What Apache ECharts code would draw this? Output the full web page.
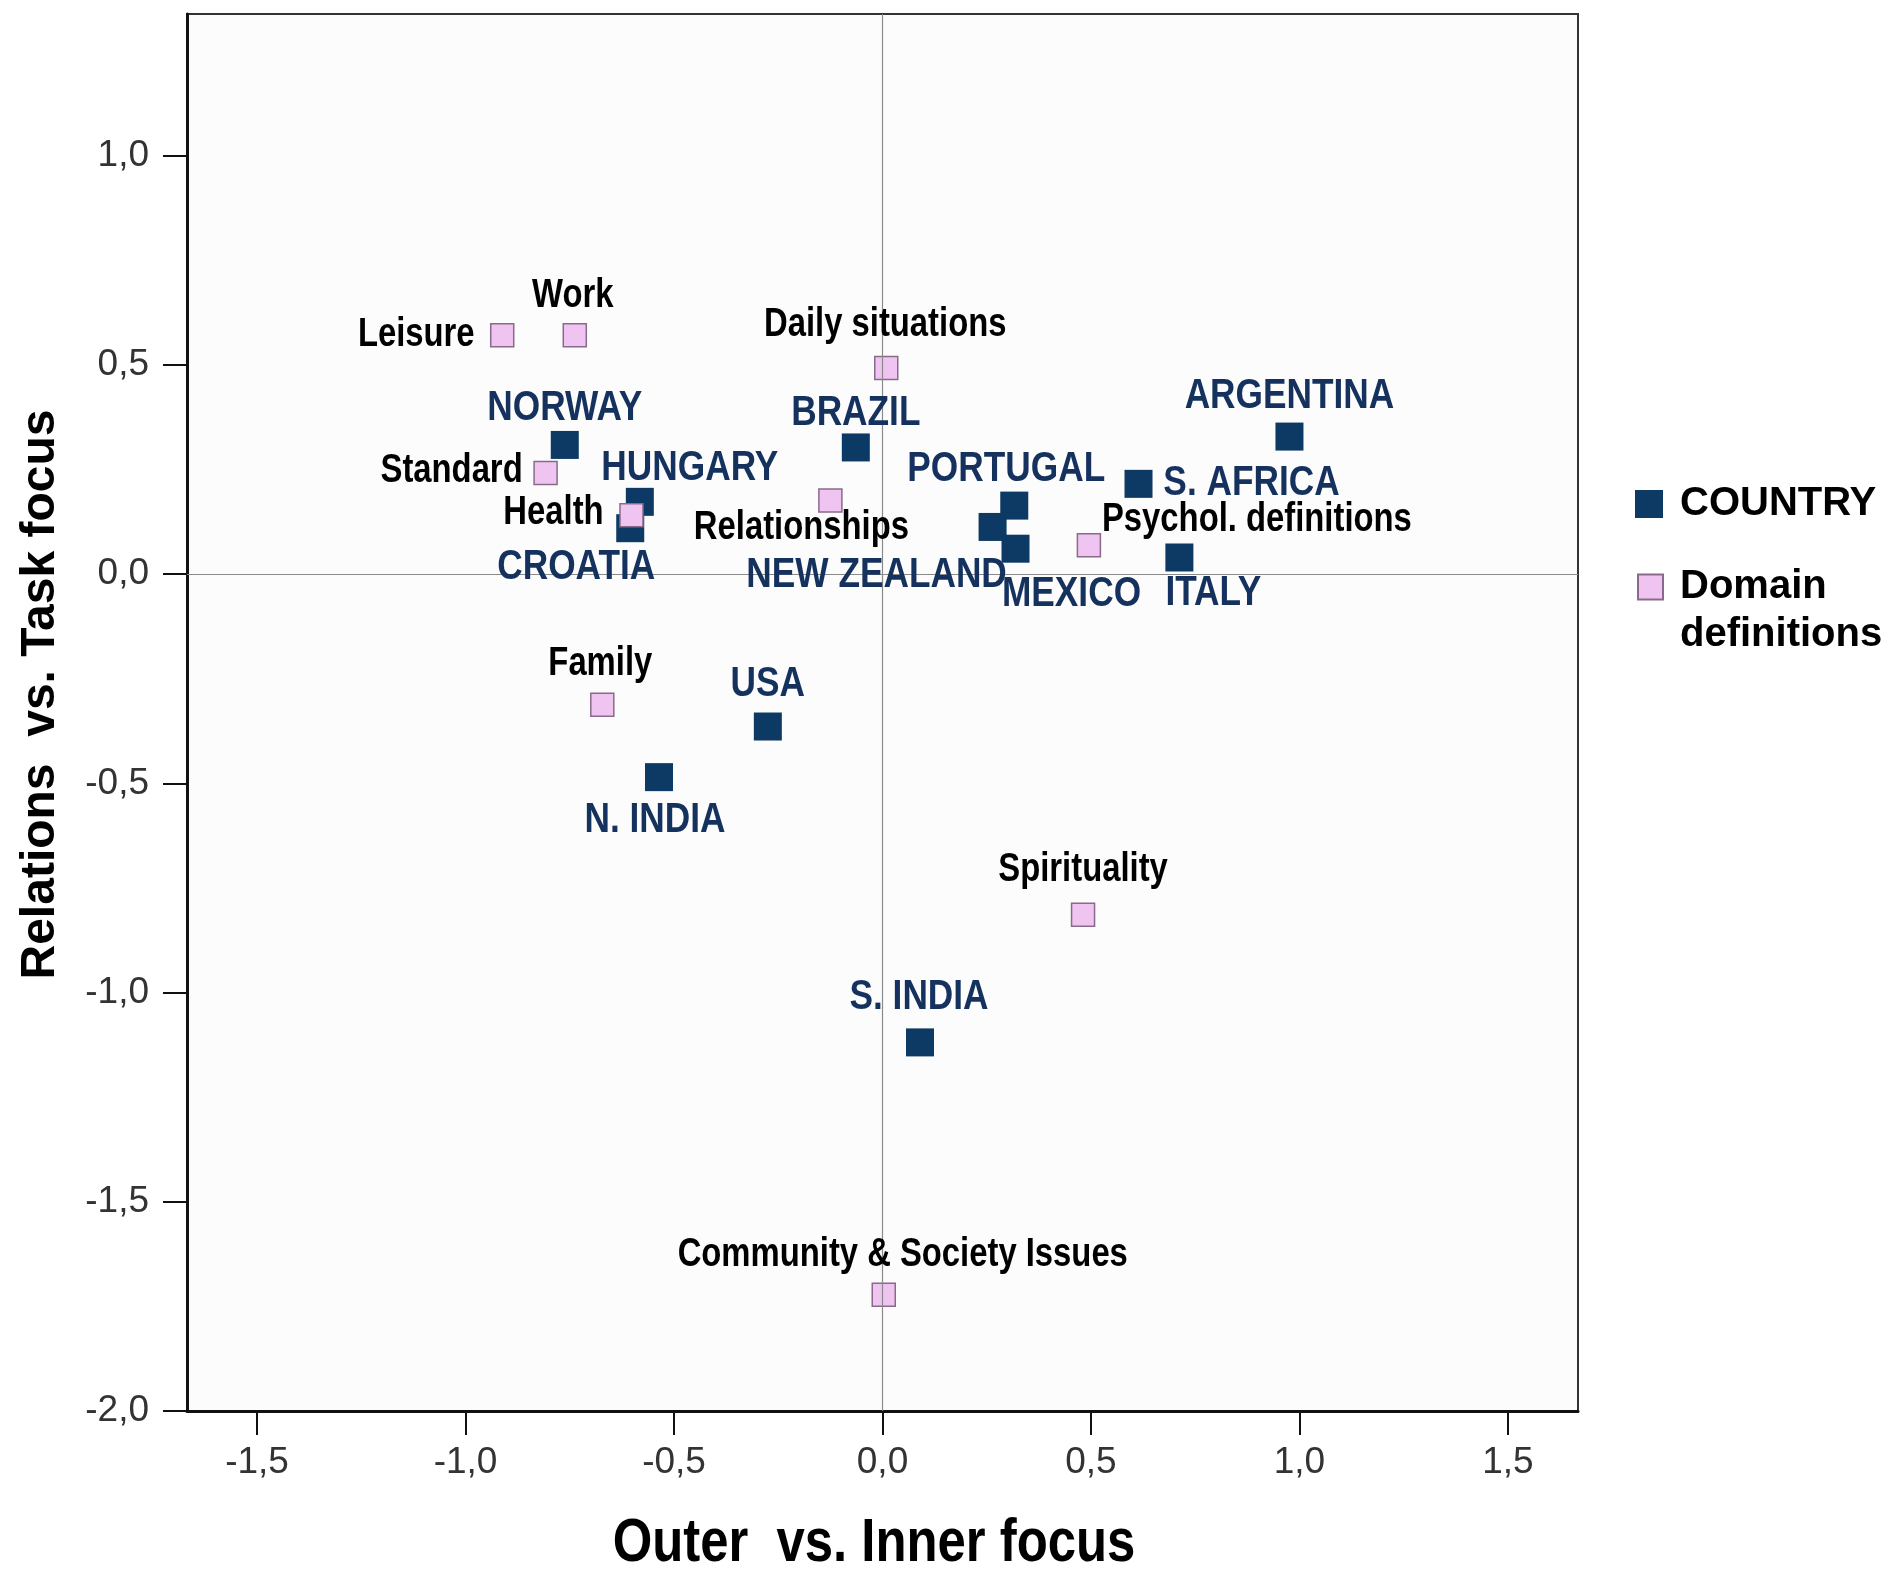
<!DOCTYPE html>
<html>
<head>
<meta charset="utf-8">
<script src="https://cdn.jsdelivr.net/npm/echarts@6/dist/echarts.min.js"></script>
<style>
html,body{margin:0;padding:0;background:#fff;}
#chart{width:1890px;height:1577px;}
</style>
</head>
<body>
<div id="chart"></div>
<script>
// ---- data ----
var countryNames = ['NORWAY','HUNGARY','CROATIA','BRAZIL','PORTUGAL','NEW ZEALAND','MEXICO','S. AFRICA','ARGENTINA','ITALY','USA','N. INDIA','S. INDIA'];
var countryX = [-0.762,-0.582,-0.605,-0.064,0.316,0.264,0.319,0.614,0.976,0.712,-0.275,-0.536,0.090];
var countryY = [0.309,0.173,0.110,0.303,0.164,0.113,0.061,0.216,0.329,0.040,-0.364,-0.485,-1.119];

var domainNames = ['Leisure','Work','Daily situations','Standard','Health','Relationships','Psychol. definitions','Family','Spirituality','Community & Society Issues'];
var domainX = [-0.912,-0.738,0.009,-0.808,-0.602,-0.125,0.495,-0.672,0.481,0.003];
var domainY = [0.571,0.571,0.493,0.242,0.141,0.176,0.069,-0.312,-0.814,-1.722];

var xTicks = [-1.5,-1.0,-0.5,0.0,0.5,1.0,1.5];
var yTicks = [-2.0,-1.5,-1.0,-0.5,0.0,0.5,1.0];

// ---- label placement (style, px offsets from marker centre) ----
var countryLabelOffset = {
  'NORWAY':[0,-37],'HUNGARY':[50,-34],'CROATIA':[-54,39],'BRAZIL':[0,-34],
  'PORTUGAL':[-8,-36],'NEW ZEALAND':[-116,48],'MEXICO':[56,45],'S. AFRICA':[113,-1],
  'ARGENTINA':[0,-40],'ITALY':[34,36],'USA':[0,-42],'N. INDIA':[-4,43],'S. INDIA':[-1,-45]
};
var domainLabelOffset = {
  'Leisure':[-86,0],'Work':[-2,-39],'Daily situations':[-1,-43],'Standard':[-94,-2],
  'Health':[-78,-2],'Relationships':[-29,27],'Psychol. definitions':[168,-25],
  'Family':[-2,-41],'Spirituality':[0,-45],'Community & Society Issues':[19,-40]
};

var SANS = '"Liberation Sans",Arial,sans-serif';
var NAVY = '#0c3a64';
var PINK = '#f0c4f0';
var NARROW_SCALE = 0.82;

function fmt(v){ return v.toFixed(1).replace('.', ','); }

function points(xs, ys){
  return xs.map(function(x,i){ return [x, ys[i], i]; });
}

// labels drawn with the chart's own coordinate system, horizontally condensed
function labelSeries(id, names, xs, ys, offsets, fontSize, color){
  return {
    id:id, type:'custom', silent:true, z:6, clip:false,
    data: points(xs, ys),
    renderItem:function(params, api){
      var i = api.value(2);
      var p = api.coord([api.value(0), api.value(1)]);
      var n = names[i], o = offsets[n];
      return {
        type:'text', x:p[0]+o[0], y:p[1]+o[1], scaleX:NARROW_SCALE, scaleY:1,
        style:{ text:n, fill:color, fontFamily:SANS, fontWeight:'bold', fontSize:fontSize,
                align:'center', verticalAlign:'middle' }
      };
    }
  };
}

var chart = echarts.init(document.getElementById('chart'), null, {renderer:'canvas'});
chart.setOption({
  backgroundColor:'#ffffff',
  animation:false,
  grid:{ left:187, right:312, top:14, bottom:166, show:true, backgroundColor:'#fbfcfb', borderColor:'#333', borderWidth:2 },
  legend:[
    { data:['COUNTRY'], orient:'vertical', left:1630, top:479, itemWidth:28, itemHeight:28, itemGap:0,
      icon:'rect', textStyle:{ fontFamily:SANS, fontWeight:'bold', fontSize:40, color:'#000', padding:[0,0,0,12] } },
    { data:['Domain definitions'], orient:'vertical', left:1632, top:510, itemWidth:25, itemHeight:25, itemGap:0,
      icon:'rect', formatter:function(){ return ' \nDomain\ndefinitions'; },
      textStyle:{ fontFamily:SANS, fontWeight:'bold', fontSize:40, color:'#000', lineHeight:48, padding:[0,0,0,12] } }
  ],
  graphic:[
    { type:'text', x:874, y:1544, scaleX:NARROW_SCALE, silent:true,
      style:{ text:'Outer  vs. Inner focus', fill:'#000', fontFamily:SANS, fontWeight:'bold', fontSize:62,
              align:'center', verticalAlign:'middle' } }
  ],
  xAxis:{
    type:'value', min:-1.668, max:1.668,
    axisLine:{ show:true, onZero:false, lineStyle:{ color:'#111', width:3 } },
    axisTick:{ show:true, length:24, customValues:xTicks, lineStyle:{ color:'#111', width:2 } },
    axisLabel:{ customValues:xTicks, formatter:fmt, margin:33, fontFamily:SANS, fontSize:37, color:'#333' },
    splitLine:{ show:false }
  },
  yAxis:{
    type:'value', min:-2.0, max:1.339,
    name:'Relations  vs. Task focus', nameLocation:'middle', nameGap:122,
    nameTextStyle:{ fontFamily:SANS, fontWeight:'bold', fontSize:48, color:'#000', padding:[0,0,0,36] },
    axisLine:{ show:true, onZero:false, lineStyle:{ color:'#111', width:3 } },
    axisTick:{ show:true, length:24, customValues:yTicks, lineStyle:{ color:'#111', width:2 } },
    axisLabel:{ customValues:yTicks, formatter:fmt, margin:38, fontFamily:SANS, fontSize:37, color:'#333' },
    splitLine:{ show:false }
  },
  series:[
    {
      name:'refLines', type:'scatter', data:[], silent:true, z:1,
      markLine:{ silent:true, symbol:'none', label:{show:false},
        lineStyle:{ color:'#8a8a8a', width:1.2, type:'solid' },
        data:[ {xAxis:0}, {yAxis:0} ] }
    },
    {
      name:'COUNTRY', type:'scatter', symbol:'rect', symbolSize:28, z:3,
      itemStyle:{ color:NAVY, opacity:1 },
      data: points(countryX, countryY)
    },
    {
      name:'Domain definitions', type:'scatter', symbol:'rect', symbolSize:23, z:4,
      itemStyle:{ color:PINK, borderColor:'#8a6a8a', borderWidth:1.5, opacity:1 },
      data: points(domainX, domainY)
    },
    labelSeries('countryLabels', countryNames, countryX, countryY, countryLabelOffset, 43, '#15315e'),
    labelSeries('domainLabels', domainNames, domainX, domainY, domainLabelOffset, 40, '#000')
  ]
});
</script>
</body>
</html>
